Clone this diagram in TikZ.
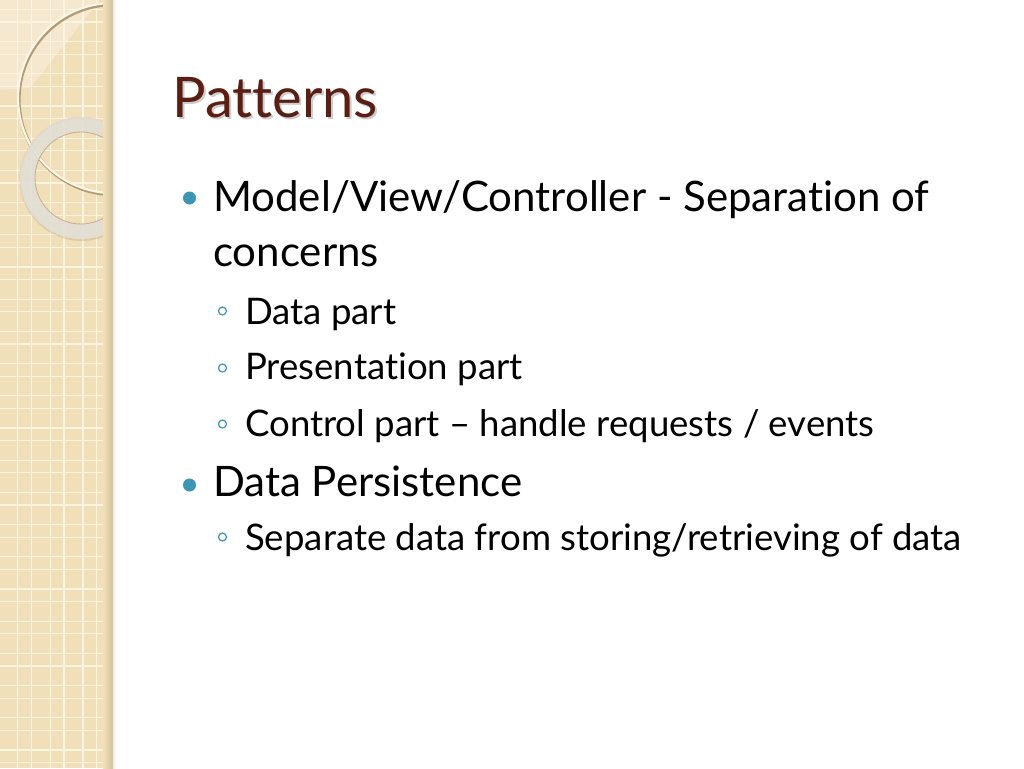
\documentclass[tikz,border=0pt]{standalone}
\usepackage{fontspec}
\setmainfont{Lato}[Ligatures=NoCommon]
\definecolor{strip}{HTML}{F1DFB9}
\definecolor{stripline}{HTML}{FBF4E1}
\definecolor{stripdark}{HTML}{D3C09C}
\definecolor{circshadow}{HTML}{A88E66}
\definecolor{titlecol}{HTML}{5A1E12}
\definecolor{teal}{HTML}{3B95B3}
\definecolor{cream}{HTML}{FCF6E6}
\definecolor{ringcol}{HTML}{E2DED6}
\tikzset{
  gridline/.style={stripline, line width=1.3pt},
  titletext/.style={anchor=base west, inner sep=0pt, text=titlecol, font=\fontsize{56}{64}\selectfont},
  shadowtext/.style={anchor=base west, inner sep=0pt, text=black, opacity=0.2, font=\fontsize{56}{64}\selectfont},
  maintext/.style={anchor=base west, inner sep=0pt, text=black, font=\fontsize{42}{48}\selectfont},
  subtext/.style={anchor=base west, inner sep=0pt, text=black, font=\fontsize{36.6}{44}\selectfont},
  dotbullet/.style={circle, fill=teal, inner sep=0pt, minimum size=13pt},
  ringbullet/.style={circle, draw=teal, line width=1.2pt, inner sep=0pt, minimum size=8pt},
}
\begin{document}
\begin{tikzpicture}[x=1pt,y=-1pt]
\useasboundingbox (0,0) rectangle (1024,768);
\fill[white] (0,0) rectangle (1024,768);
% side strip
\begin{scope}
\clip (0,0) rectangle (113,768);
\fill[strip] (0,0) rectangle (113,768);
\fill[white, opacity=0.3] (0,0) -- (100,0) -- (30,88) -- (0,90) -- cycle;
\foreach \k in {0,...,3} {
  \draw[gridline] ({17.8+32.6*\k},0) -- ({17.8+32.6*\k},768);
  \draw[gridline] ({31.4+32.6*\k},0) -- ({31.4+32.6*\k},768);
}
\foreach \k in {-1,...,23} {
  \draw[gridline] (0,{9.4+32.2*\k}) -- (113,{9.4+32.2*\k});
  \draw[gridline] (0,{22+32.2*\k}) -- (113,{22+32.2*\k});
}
% big thin circle
\draw[circshadow, line width=3.2pt, opacity=0.85] (114,99.6) circle (95);
\draw[cream, line width=2.2pt] (113,98) circle (95);
% thick ring
\draw[circshadow, line width=2pt, opacity=0.25] (81.5,179) circle (61);
\fill[ringcol, opacity=0.88, even odd rule] (81,178) circle (61) (81,178) circle (46);
\draw[circshadow, line width=0.9pt, opacity=0.55] (81,178) circle (46);
% right edge shadow
\shade[left color=strip, right color=stripdark] (103,0) rectangle (113,768);
\end{scope}
\shade[left color=black!7, right color=white] (113,0) rectangle (117,768);
% title
\node[shadowtext] (tsh) at (174,119) {Patterns};
\node[titletext] (title) at (172,117) {Patterns};
% bullets
\node[dotbullet] (b1) at (189.5,198) {};
\node[maintext] (t1) at (213,211) {Model/View/Controller - Separation of};
\node[maintext] (t1b) at (213,266) {concerns};
\node[ringbullet] (s1) at (222.5,311) {};
\node[subtext] (u1) at (245,324) {Data part};
\node[ringbullet] (s2) at (222.5,368) {};
\node[subtext] (u2) at (245,379) {Presentation part};
\node[ringbullet] (s3) at (222.5,424) {};
\node[subtext] (u3) at (245,436) {Control part – handle requests / events};
\node[dotbullet] (b2) at (189.5,485) {};
\node[maintext] (t2) at (213,496) {Data Persistence};
\node[ringbullet] (s4) at (222.5,537) {};
\node[subtext] (u4) at (245,550) {Separate data from storing/retrieving of data};
\end{tikzpicture}
\end{document}
